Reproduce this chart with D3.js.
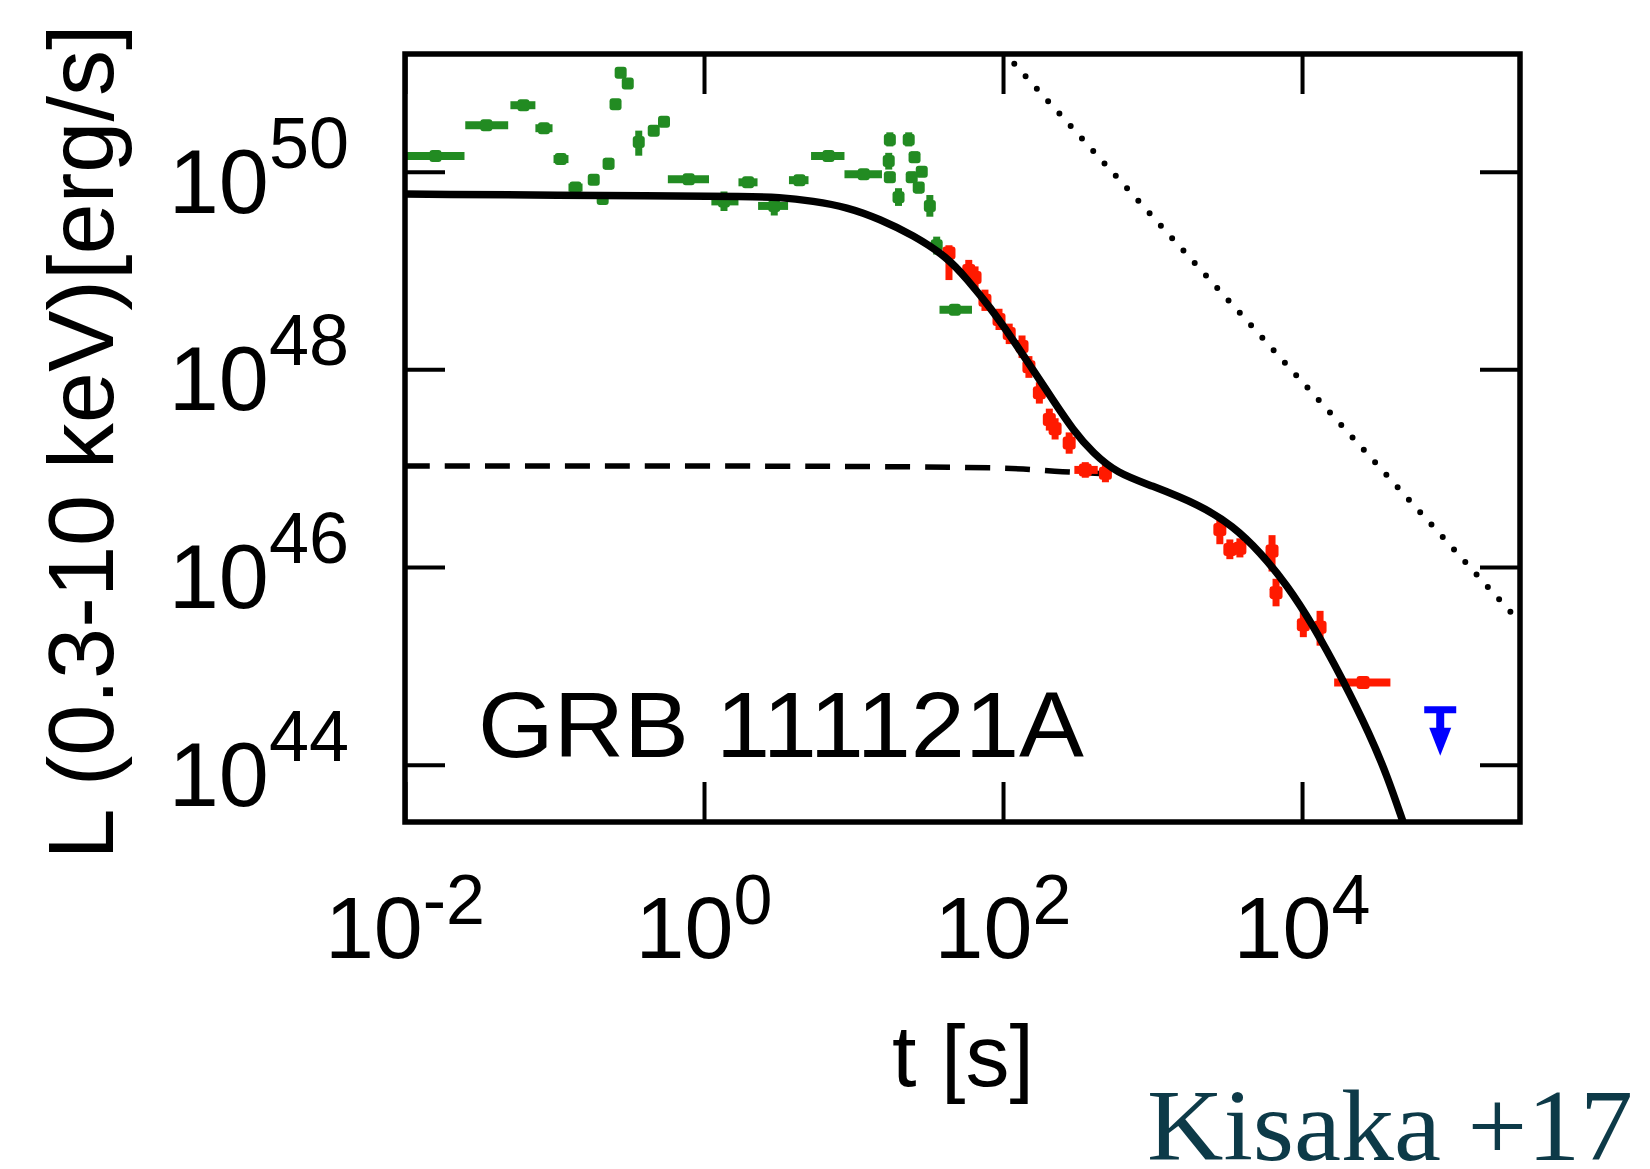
<!DOCTYPE html>
<html>
<head>
<meta charset="utf-8">
<script src="https://cdn.jsdelivr.net/npm/d3@7"></script>
<style>
  body { margin: 0; background: #fff; }
  svg text { font-family: "Liberation Sans", Arial, Helvetica, sans-serif; fill: #000; }
</style>
</head>
<body>
<svg id="chart" width="1650" height="1169"></svg>
<script>
// ticks
const xTicks = [1e-2, 1e0, 1e2, 1e4];
const xTickExp = ["-2", "0", "2", "4"];
const yTicks = [1e44, 1e46, 1e48, 1e50];
const yTickExp = ["44", "46", "48", "50"];

// model light curve (solid)
const modelT = [0.01, 0.69, 1.8, 3.22, 5.36, 9.05, 15.0, 25.0, 42.2, 57.4, 81.8, 117, 159, 216, 294, 400, 579, 962, 2080, 3450, 5230, 7940, 11850, 18800, 28500, 37100, 47400];
const modelL = [5.93e49, 5.66e49, 5.62e49, 5.53e49, 5.04e49, 4.38e49, 3.31e49, 2.28e49, 1.37e49, 8.18e48, 4.27e48, 1.98e48, 9.8e47, 4.89e47, 2.43e47, 1.42e47, 8.93e46, 6.75e46, 4.24e46, 2.6e46, 1.42e46, 6.56e45, 2.58e45, 7.2e44, 2.0e44, 7.7e43, 2.63e43];

// second component (dashed)
const dashT = [0.01, 100, 250, 560];
const dashL = [1.05e47, 1.0e47, 9.2e46, 8.7e46];

// t^-5/3 reference (dotted)
const dotT = [100, 2.87e5];
const dotL = [1.65e51, 2.75e45];

// BAT extrapolated (green)
const greenT   = [0.016, 0.035, 0.062, 0.085, 0.11, 0.138, 0.183, 0.21, 0.23, 0.256, 0.277, 0.309, 0.366, 0.461, 0.54, 0.79, 1.36, 1.97, 2.95, 4.35, 6.8, 11.7, 17.5, 23.4, 17.2, 17.5, 25.6, 28.6, 24.5, 20, 27.3, 32.4, 36, 47.6];
const greenTlo = [0.0102, 0.0253, 0.0507, 0.0745, 0.0985, 0.124, 0.183, 0.21, 0.23, 0.256, 0.277, 0.309, 0.366, 0.461, 0.54, 0.573, 1.12, 1.7, 2.3, 3.7, 5.2, 8.7, 17.5, 23.4, 17.2, 17.5, 25.6, 28.6, 24.5, 20, 27.3, 32.4, 36, 37.6];
const greenThi = [0.025, 0.049, 0.0745, 0.097, 0.124, 0.154, 0.183, 0.21, 0.23, 0.256, 0.277, 0.309, 0.366, 0.461, 0.54, 1.08, 1.7, 2.28, 3.65, 5.0, 8.7, 15.5, 17.5, 23.4, 17.2, 17.5, 25.6, 28.6, 24.5, 20, 27.3, 32.4, 36, 62];
const greenL   = [1.44e50, 2.95e50, 4.7e50, 2.75e50, 1.34e50, 6.9e49, 8.3e49, 5.3e49, 1.2e50, 4.8e50, 1.0e51, 7.8e50, 2.0e50, 2.6e50, 3.2e50, 8.4e49, 5.0e49, 7.8e49, 4.5e49, 8.2e49, 1.44e50, 9.4e49, 2.1e50, 2.1e50, 1.28e50, 8.8e49, 1.4e50, 1.0e50, 8.8e49, 5.5e49, 6.9e49, 4.5e49, 1.8e49, 4.0e48];
const greenLlo = [1.44e50, 2.95e50, 4.7e50, 2.75e50, 1.34e50, 6.9e49, 8.3e49, 4.7e49, 1.05e50, 4.8e50, 0.9e51, 6.9e50, 1.45e50, 2.3e50, 2.9e50, 8.4e49, 4.0e49, 7.8e49, 3.6e49, 8.2e49, 1.44e50, 9.4e49, 1.8e50, 1.8e50, 1.05e50, 7.8e49, 1.25e50, 0.9e50, 7.8e49, 4.5e49, 6.0e49, 3.5e49, 1.45e49, 4.0e48];
const greenLhi = [1.44e50, 2.95e50, 4.7e50, 2.75e50, 1.34e50, 6.9e49, 8.3e49, 6.0e49, 1.38e50, 4.8e50, 1.1e51, 8.7e50, 2.6e50, 2.9e50, 3.6e50, 8.4e49, 6.3e49, 7.8e49, 5.6e49, 8.2e49, 1.44e50, 9.4e49, 2.5e50, 2.5e50, 1.55e50, 1.0e50, 1.6e50, 1.12e50, 1.0e50, 6.8e49, 7.8e49, 5.8e49, 2.2e49, 4.0e48];

// XRT (red)
const redT   = [43.5, 59, 65, 75.7, 94, 110, 134, 149, 175, 204, 223, 277, 355, 484, 2820, 3290, 3840, 6300, 6700, 10200, 13200, 25600];
const redTlo = [43.5, 59, 65, 75.7, 94, 110, 134, 149, 175, 204, 223, 277, 300, 484, 2820, 3290, 3840, 6300, 6700, 10200, 13200, 16400];
const redThi = [43.5, 59, 65, 75.7, 94, 110, 134, 149, 175, 204, 223, 277, 430, 484, 2820, 3290, 3840, 6300, 6700, 10200, 13200, 39000];
const redL   = [1.5e49, 1.0e49, 8.5e48, 5.0e48, 3.2e48, 2.3e48, 1.7e48, 1.06e48, 5.8e47, 3.1e47, 2.5e47, 1.8e47, 9.6e46, 8.9e46, 2.4e46, 1.5e46, 1.55e46, 1.45e46, 5.5e45, 2.6e45, 2.45e45, 6.8e44];
const redLlo = [8.0e48, 7.8e48, 6.6e48, 3.9e48, 2.5e48, 1.8e48, 1.3e48, 0.82e48, 4.5e47, 2.4e47, 1.95e47, 1.4e47, 8.0e46, 7.2e46, 1.7e46, 1.2e46, 1.25e46, 0.9e46, 4.0e45, 1.95e45, 1.6e45, 6.8e44];
const redLhi = [1.8e49, 1.28e49, 1.1e49, 6.4e48, 4.1e48, 2.9e48, 2.2e48, 1.36e48, 7.4e47, 4.0e47, 3.2e47, 2.3e47, 1.15e47, 1.1e47, 3.2e46, 1.9e46, 1.95e46, 2.1e46, 7.6e45, 3.5e45, 3.6e45, 6.8e44];

// upper limit (blue)
const blueT = [8.4e4];
const blueL = [3.6e44];

const svg = d3.select("#chart");
const plotLeft = 405, plotRight = 1520, plotTop = 54, plotBottom = 822;

const x = d3.scaleLog().domain([1e-2, 2.87e5]).range([plotLeft, plotRight]);
const y = d3.scaleLog().domain([2.63e43, 1.55e51]).range([plotBottom, plotTop]);

svg.append("rect").attr("width", 1650).attr("height", 1169).attr("fill", "#fff");

svg.append("clipPath").attr("id", "plotclip")
  .append("rect")
  .attr("x", plotLeft).attr("y", plotTop)
  .attr("width", plotRight - plotLeft).attr("height", plotBottom - plotTop);

const plot = svg.append("g").attr("clip-path", "url(#plotclip)");

function lineOf(T, L, curve) {
  return d3.line()
    .x(function(d) { return x(T[d]); })
    .y(function(d) { return y(L[d]); })
    .curve(curve || d3.curveCatmullRom.alpha(0.5))(d3.range(T.length));
}

// dotted t^-5/3
plot.append("path")
  .attr("d", lineOf(dotT, dotL))
  .attr("fill", "none")
  .attr("stroke", "#000")
  .attr("stroke-width", 6)
  .attr("stroke-linecap", "round")
  .attr("stroke-dasharray", "0,16.8");

// dashed component
plot.append("path")
  .attr("d", lineOf(dashT, dashL))
  .attr("fill", "none")
  .attr("stroke", "#000")
  .attr("stroke-width", 5.5)
  .attr("stroke-dasharray", "25,15");

function drawPoints(T, Tlo, Thi, L, Llo, Lhi, color, size) {
  const g = plot.append("g");
  const idx = d3.range(T.length);
  g.selectAll(".hbar").data(idx).enter().append("line")
    .attr("x1", function(i) { return x(Tlo[i]); })
    .attr("x2", function(i) { return x(Thi[i]); })
    .attr("y1", function(i) { return y(L[i]); })
    .attr("y2", function(i) { return y(L[i]); })
    .attr("stroke", color).attr("stroke-width", 8);
  g.selectAll(".vbar").data(idx).enter().append("line")
    .attr("x1", function(i) { return x(T[i]); })
    .attr("x2", function(i) { return x(T[i]); })
    .attr("y1", function(i) { return y(Llo[i]); })
    .attr("y2", function(i) { return y(Lhi[i]); })
    .attr("stroke", color).attr("stroke-width", 7);
  g.selectAll(".mark").data(idx).enter().append("rect")
    .attr("x", function(i) { return x(T[i]) - size / 2; })
    .attr("y", function(i) { return y(L[i]) - size / 2; })
    .attr("width", size).attr("height", size)
    .attr("rx", 3)
    .attr("fill", color);
}

drawPoints(greenT, greenTlo, greenThi, greenL, greenLlo, greenLhi, "#228b22", 12);
drawPoints(redT, redTlo, redThi, redL, redLlo, redLhi, "#ff1a00", 13);

// upper limit marker
const ul = plot.append("g");
d3.range(blueT.length).forEach(function(i) {
  const bx = x(blueT[i]), by = y(blueL[i]);
  ul.append("line").attr("x1", bx - 16).attr("x2", bx + 16).attr("y1", by).attr("y2", by)
    .attr("stroke", "#0000ff").attr("stroke-width", 7);
  ul.append("line").attr("x1", bx).attr("x2", bx).attr("y1", by).attr("y2", by + 30)
    .attr("stroke", "#0000ff").attr("stroke-width", 8);
  ul.append("path")
    .attr("d", "M" + (bx - 11) + "," + (by + 18) + "L" + (bx + 11) + "," + (by + 18) + "L" + bx + "," + (by + 46) + "Z")
    .attr("fill", "#0000ff");
});

// model curve
plot.append("path")
  .attr("d", lineOf(modelT, modelL, d3.curveBasis))
  .attr("fill", "none")
  .attr("stroke", "#000")
  .attr("stroke-width", 7.5)
  .attr("stroke-linejoin", "round");

// axes with inward ticks on all four sides
function styleAxis(g) {
  g.select(".domain").remove();
  g.selectAll(".tick line").attr("stroke", "#000").attr("stroke-width", 4);
  g.selectAll(".tick text").remove();
}
svg.append("g").attr("transform", "translate(0," + plotBottom + ")")
  .call(d3.axisBottom(x).tickValues(xTicks).tickSizeInner(-40).tickSizeOuter(0)).call(styleAxis);
svg.append("g").attr("transform", "translate(0," + plotTop + ")")
  .call(d3.axisTop(x).tickValues(xTicks).tickSizeInner(-40).tickSizeOuter(0)).call(styleAxis);
svg.append("g").attr("transform", "translate(" + plotLeft + ",0)")
  .call(d3.axisLeft(y).tickValues(yTicks).tickSizeInner(-40).tickSizeOuter(0)).call(styleAxis);
svg.append("g").attr("transform", "translate(" + plotRight + ",0)")
  .call(d3.axisRight(y).tickValues(yTicks).tickSizeInner(-40).tickSizeOuter(0)).call(styleAxis);

// frame
svg.append("rect")
  .attr("x", plotLeft).attr("y", plotTop)
  .attr("width", plotRight - plotLeft).attr("height", plotBottom - plotTop)
  .attr("fill", "none").attr("stroke", "#000").attr("stroke-width", 5.5);

// x tick labels
xTicks.forEach(function(t, i) {
  const txt = svg.append("text")
    .attr("x", x(t)).attr("y", 958)
    .attr("text-anchor", "middle")
    .style("font-size", "88px");
  txt.append("tspan").text("10");
  txt.append("tspan").attr("dy", -34).style("font-size", "70px").text(xTickExp[i]);
});

// y tick labels
yTicks.forEach(function(v, i) {
  const txt = svg.append("text")
    .attr("x", 349).attr("y", y(v) + 41)
    .attr("text-anchor", "end")
    .style("font-size", "90px");
  txt.append("tspan").text("10");
  txt.append("tspan").attr("dy", -45).style("font-size", "72px").text(yTickExp[i]);
});

// axis titles
svg.append("text")
  .attr("transform", "translate(113,442) rotate(-90)")
  .attr("text-anchor", "middle")
  .style("font-size", "92px")
  .text("L (0.3-10 keV)[erg/s]");

svg.append("text")
  .attr("x", 963).attr("y", 1086)
  .attr("text-anchor", "middle")
  .style("font-size", "88px")
  .text("t [s]");

svg.append("text")
  .attr("x", 478).attr("y", 757)
  .attr("textLength", 606)
  .attr("lengthAdjust", "spacingAndGlyphs")
  .style("font-size", "92px")
  .text("GRB 111121A");

svg.append("text")
  .attr("x", 1147).attr("y", 1160)
  .attr("textLength", 486)
  .attr("lengthAdjust", "spacingAndGlyphs")
  .style("font-family", "'Liberation Serif', 'Times New Roman', serif")
  .style("font-size", "102px")
  .style("fill", "#0d3a48")
  .text("Kisaka +17");
</script>
</body>
</html>
